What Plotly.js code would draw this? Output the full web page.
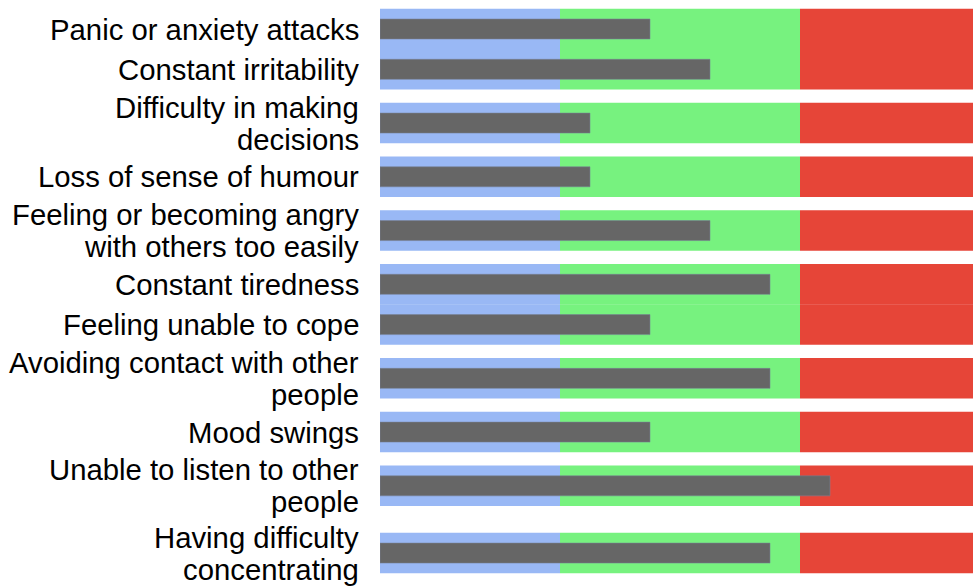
<!DOCTYPE html>
<html>
<head>
<meta charset="utf-8">
<script src="https://cdn.plot.ly/plotly-3.0.1.min.js"></script>
<style>html,body{margin:0;padding:0;background:#fff;}#chart{width:973px;height:586px;}</style>
</head>
<body>
<div id="chart"></div>
<script>
// ---- data ----
const categories = [
  "Panic or anxiety attacks",
  "Constant irritability",
  "Difficulty in making<br>decisions",
  "Loss of sense of humour",
  "Feeling or becoming angry<br>with others too easily",
  "Constant tiredness",
  "Feeling unable to cope",
  "Avoiding contact with other<br>people",
  "Mood swings",
  "Unable to listen to other<br>people",
  "Having difficulty<br>concentrating"
];
const values = [4.5, 5.5, 3.5, 3.5, 5.5, 6.5, 4.5, 6.5, 4.5, 7.5, 6.5];
const rangeLimits = [3, 7, 10];          // low / medium / high band ends
const rangeColors = ["#99b8f5", "#77f27f", "#e64538"];

// ---- layout helpers (row placement depends on label line count) ----
const ROW = 40.3, EXTRA = 13.45, LINE = 32;
const lines = categories.map(c => c.split("<br>").length);
const pos = [];
categories.forEach((c, i) => {
  if (i === 0) pos.push(0);
  else pos.push(pos[i-1] + ROW + EXTRA * ((lines[i-1]-1) + (lines[i]-1)));
});

const traces = [];
let prev = 0;
rangeLimits.forEach((lim, k) => {
  traces.push({
    type: "bar", orientation: "h",
    y: pos, x: pos.map(() => lim - prev), base: pos.map(() => prev),
    width: 40.5,
    marker: {color: rangeColors[k], line: {width: 0}},
    hoverinfo: "skip", showlegend: false
  });
  prev = lim;
});
traces.push({
  type: "bar", orientation: "h",
  y: pos, x: values, base: 0,
  width: 20,
  marker: {color: "#666666", line: {color: "rgba(120,130,150,0.55)", width: 1}},
  hoverinfo: "skip", showlegend: false
});

const annotations = [];
categories.forEach((c, i) => {
  const parts = c.split("<br>");
  parts.forEach((t, k) => {
    annotations.push({
      xref: "paper", yref: "y", x: 0, y: pos[i],
      xanchor: "right", yanchor: "middle",
      xshift: -19, yshift: -(k - (parts.length - 1) / 2) * LINE,
      text: t, showarrow: false,
      font: {family: "Liberation Sans, Arial, sans-serif", size: 29.3, color: "#000"}
    });
  });
});

const layout = {
  width: 973, height: 586,
  margin: {l: 380, r: 0, t: 0, b: 0},
  paper_bgcolor: "#fff", plot_bgcolor: "#fff",
  barmode: "overlay",
  xaxis: {range: [0, 593/60], showgrid: false, zeroline: false, showticklabels: false, fixedrange: true},
  yaxis: {range: [557, -29], showgrid: false, zeroline: false, showticklabels: false, fixedrange: true},
  annotations: annotations,
  showlegend: false
};

Plotly.newPlot("chart", traces, layout, {displayModeBar: false, staticPlot: true});
</script>
</body>
</html>
